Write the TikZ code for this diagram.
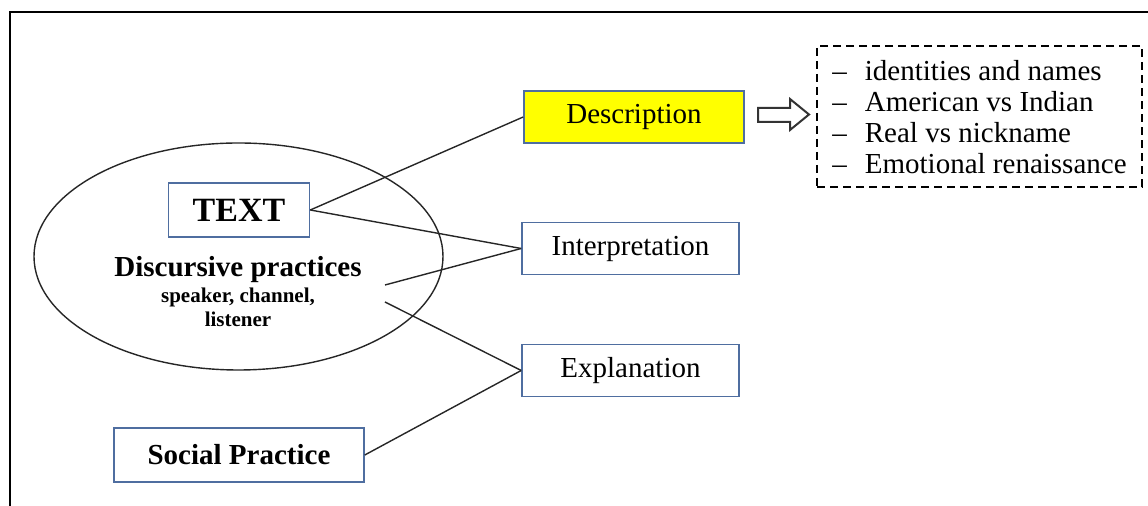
\documentclass[tikz,border=0pt]{standalone}
\usepackage{fontspec}
\setmainfont{Liberation Serif}
\usetikzlibrary{shapes.geometric}

\definecolor{boxblue}{RGB}{79,110,160}
\definecolor{descyellow}{RGB}{255,255,0}

\tikzset{
    stage/.style={draw=boxblue, line width=0.8pt, minimum width=108.5pt, minimum height=26pt, inner sep=0pt, font=\fontsize{14.5}{17}\selectfont},
    link/.style={draw=black!85, line width=0.7pt},
}

\begin{document}
\begin{tikzpicture}[x=0.5pt,y=-0.5pt]
    \useasboundingbox (0,0) rectangle (1148,506);
    \draw[line width=1pt] (9.5,506)--(9.5,12)--(1148,12);

    % discourse ellipse
    \node[ellipse, draw=black!85, line width=0.7pt, minimum width=204.5pt, minimum height=113.5pt, inner sep=0pt] (discourse) at (238.5,256.5) {};
    \node[stage, minimum width=70.5pt, minimum height=27pt, font=\bfseries\fontsize{17}{20}\selectfont] (text) at (239,210) {TEXT};
    \node[anchor=base, font=\bfseries\fontsize{14.5}{17}\selectfont] (dptitle) at (238,277) {Discursive practices};
    \node[anchor=base, font=\bfseries\fontsize{10.5}{12}\selectfont] (dpline) at (238,303) {speaker, channel,};
    \node[anchor=base, font=\bfseries\fontsize{10.5}{12}\selectfont] (dplist) at (238,327) {listener};
    \coordinate (dp1) at (385,285);
    \coordinate (dp2) at (385,302);

    \node[stage, minimum width=125pt, minimum height=27pt, font=\bfseries\fontsize{14.5}{17}\selectfont] (social) at (239,455) {Social Practice};

    % three stages
    \node[stage, fill=descyellow, minimum width=110pt] (desc) at (634,117) {Description};
    \node[stage] (interp) at (630.5,248.5) {Interpretation};
    \node[stage] (expl) at (630.5,370.5) {Explanation};

    \draw[link] (text.east)--(desc.west);
    \draw[link] (text.east)--(interp.west);
    \draw[link] (dp1)--(interp.west);
    \draw[link] (dp2)--(expl.west);
    \draw[link] (social.east)--(expl.west);

    % hollow arrow
    \draw[draw=black!80, line width=1pt] (758,108)--(790,108)--(790,99)--(809,114.5)--(790,130)--(790,122)--(758,122)--cycle;

    \node[draw, dash pattern=on 4pt off 2.5pt, line width=0.7pt, minimum width=162.5pt, minimum height=70.5pt, inner sep=0pt, font=\fontsize{14.5}{15.5}\selectfont] (aspects) at (979.5,116.5) {%
        \raisebox{-2pt}[\height][\depth]{\begin{tabular}{@{}l@{\hspace{9pt}}l@{}}
            -- & identities and names\\
            -- & American vs Indian\\
            -- & Real vs nickname\\
            -- & Emotional renaissance
        \end{tabular}}};
\end{tikzpicture}
\end{document}
